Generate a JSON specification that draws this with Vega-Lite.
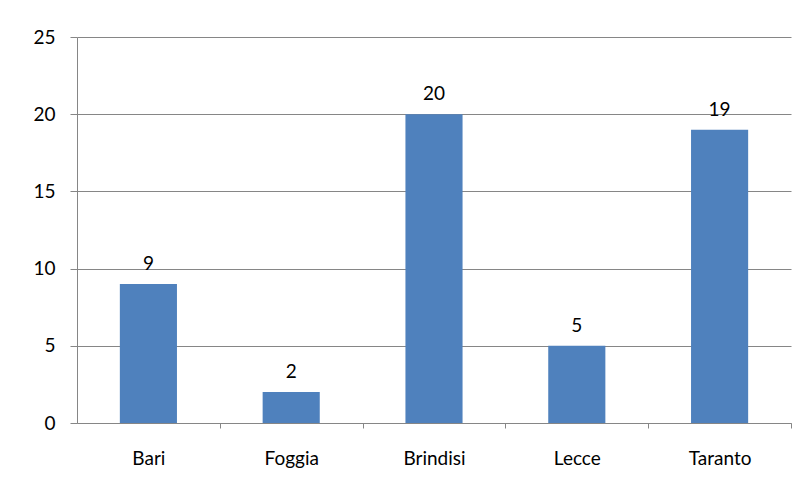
{
  "$schema": "https://vega.github.io/schema/vega-lite/v6.json",
  "autosize": "none",
  "width": 714,
  "height": 386,
  "padding": {"left": 77, "top": 37, "right": 12, "bottom": 65},
  "background": "white",
  "config": {
    "view": {"stroke": null},
    "font": "Lato",
    "axis": {"labelFont": "Lato", "labelColor": "black", "labelFontSize": 19}
  },
  "data": {
    "values": [
      {"city": "Bari", "value": 9},
      {"city": "Foggia", "value": 2},
      {"city": "Brindisi", "value": 20},
      {"city": "Lecce", "value": 5},
      {"city": "Taranto", "value": 19}
    ]
  },
  "encoding": {
    "x": {
      "field": "city",
      "type": "nominal",
      "sort": null,
      "scale": {"paddingInner": 0, "paddingOuter": 0},
      "axis": {
        "title": null,
        "labelAngle": 0,
        "tickOffset": 71.4,
        "labelOffset": -71.4,
        "tickSize": 5,
        "tickColor": "#868686",
        "domainColor": "#868686",
        "labelPadding": 21,
        "grid": false
      }
    },
    "y": {
      "field": "value",
      "type": "quantitative",
      "scale": {"domain": [0, 25], "nice": false},
      "axis": {
        "title": null,
        "values": [0, 5, 10, 15, 20, 25],
        "tickSize": 7,
        "tickColor": "#868686",
        "domainColor": "#868686",
        "gridColor": "#868686",
        "gridOpacity": 1,
        "grid": true,
        "labelPadding": 15,
        "labelBaseline": "middle"
      }
    }
  },
  "layer": [
    {
      "mark": {"type": "bar", "color": "#4F81BD", "width": {"band": 0.4}}
    },
    {
      "mark": {"type": "text", "baseline": "alphabetic", "dy": -14, "fontSize": 19, "font": "Lato", "color": "black"},
      "encoding": {"text": {"field": "value", "type": "quantitative"}}
    }
  ]
}
